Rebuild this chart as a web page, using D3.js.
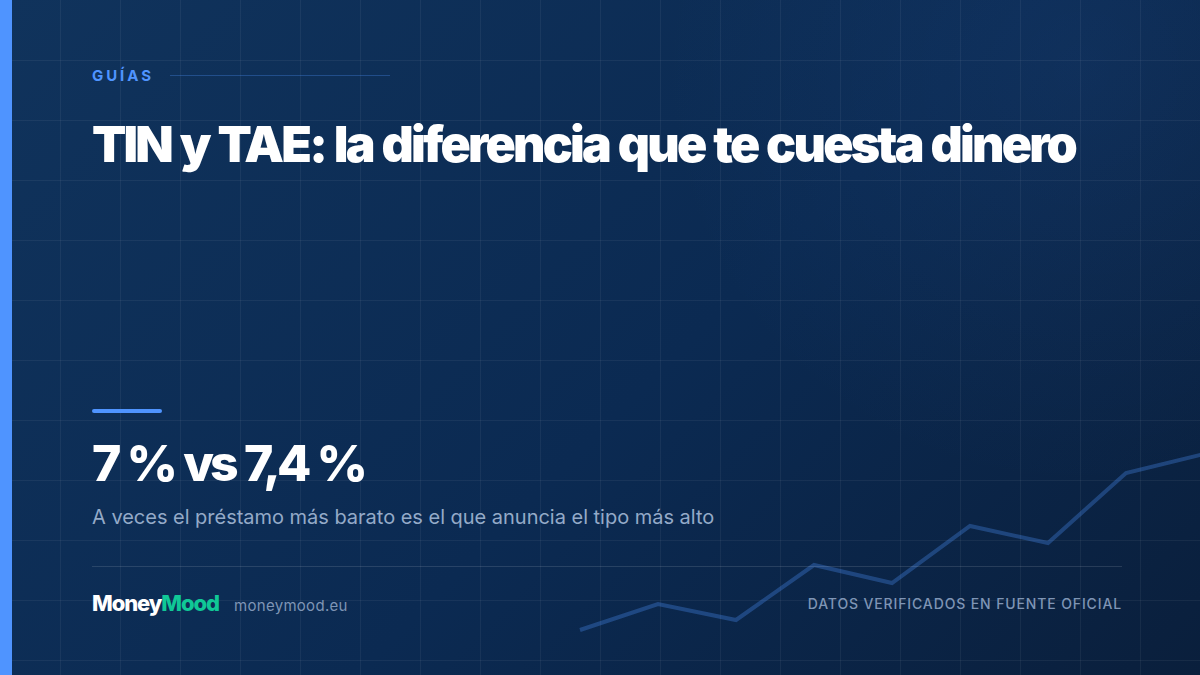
<!DOCTYPE html>
<html lang="es"><head><meta charset="utf-8">
<script src="https://cdn.jsdelivr.net/npm/d3@7/dist/d3.min.js"></script>
<style>html,body{margin:0;padding:0;background:#0a1f3c;overflow:hidden}svg{display:block}text{font-family:Inter,sans-serif}</style>
</head><body><div id="c"></div>
<script>
const trendPeriods = [0,1,2,3,4,5,6,7,8];
const trendValues = [45,71,55,110,92,149,132,202,221];
const eyebrow = "GUÍAS";
const titleText = "TIN y TAE: la diferencia que te cuesta dinero";
const statText = "7 % vs 7,4 %";
const subText = "A veces el préstamo más barato es el que anuncia el tipo más alto";
const brandA = "Money", brandB = "Mood", site = "moneymood.eu";
const footRight = "DATOS VERIFICADOS EN FUENTE OFICIAL";

const W=1200,H=675;
const svg=d3.select("#c").append("svg").attr("width",W).attr("height",H).attr("viewBox",[0,0,W,H]);
const defs=svg.append("defs");
const lg=defs.append("linearGradient").attr("id","bg").attr("gradientUnits","userSpaceOnUse")
 .attr("x1",131).attr("y1",-131).attr("x2",1069).attr("y2",806);
[[0,"#10335c"],[0.55,"#0b2a52"],[1,"#0a1f3c"]].forEach(([o,c])=>lg.append("stop").attr("offset",o).attr("stop-color",c));
const rg=defs.append("radialGradient").attr("id","glow").attr("gradientUnits","userSpaceOnUse")
 .attr("cx",1080).attr("cy",70).attr("r",420);
rg.append("stop").attr("offset",0).attr("stop-color","#4f94ff").attr("stop-opacity",0.07);
rg.append("stop").attr("offset",1).attr("stop-color","#4f94ff").attr("stop-opacity",0);
svg.append("rect").attr("width",W).attr("height",H).attr("fill","url(#bg)");
svg.append("rect").attr("width",W).attr("height",H).attr("fill","url(#glow)");

const grid=svg.append("g").attr("stroke","#fff").attr("stroke-opacity",0.055).attr("stroke-width",1).attr("shape-rendering","crispEdges");
d3.range(60,W,60).forEach(x=>grid.append("line").attr("x1",x+.5).attr("x2",x+.5).attr("y1",0).attr("y2",H));
d3.range(60,H,60).forEach(y=>grid.append("line").attr("y1",y+.5).attr("y2",y+.5).attr("x1",0).attr("x2",W));

const x=d3.scaleLinear().domain([0,8]).range([580,1204]);
const y=d3.scaleLinear().domain([0,675]).range([675,0]);
svg.append("path").datum(trendPeriods.map((p,i)=>[p,trendValues[i]]))
 .attr("d",d3.line().x(d=>x(d[0])).y(d=>y(d[1])))
 .attr("fill","none").attr("stroke","#4f94ff").attr("stroke-opacity",0.3).attr("stroke-width",4);

svg.append("rect").attr("width",12).attr("height",H).attr("fill","#4f94ff");

const t=(s,xx,yy,size,weight,fill,ls,anchor)=>svg.append("text").attr("x",xx).attr("y",yy).attr("font-size",size).attr("font-weight",weight).attr("fill",fill).attr("letter-spacing",ls||0).attr("text-anchor",anchor||"start").text(s);
const fit=(sel,target,ws=0)=>{sel.attr("letter-spacing",0).attr("word-spacing",ws);const n=sel.node().getNumberOfChars();const w=sel.node().getComputedTextLength();sel.attr("letter-spacing",((target-w)/(n-1)).toFixed(2)+"px");return sel;};
fit(t(eyebrow,92,81,15,700,"#4f94ff"),59);
svg.append("rect").attr("x",170).attr("y",75).attr("width",220).attr("height",1).attr("fill","#4f94ff").attr("fill-opacity",0.3);
fit(t(titleText,92,162,50,900,"#fff"),986,1.5);
svg.append("rect").attr("x",92).attr("y",409).attr("width",70).attr("height",4).attr("rx",2).attr("fill","#4f94ff");
fit(t(statText,92,481,50,850,"#fff"),276,2);
fit(t(subText,92,524,20,400,"#94aac8"),622);
svg.append("rect").attr("x",92).attr("y",566).attr("width",1030).attr("height",1).attr("fill","#fff").attr("fill-opacity",0.12);
const b=t(brandA,92,611,22,800,"#fff");
b.append("tspan").attr("fill","#10c896").text(brandB);
fit(b,128);
t(site,234,611,15,400,"#7f95b5","0.3px");
t(footRight,1122,609,14,500,"#7f95b5","0.87px","end");
</script></body></html>
